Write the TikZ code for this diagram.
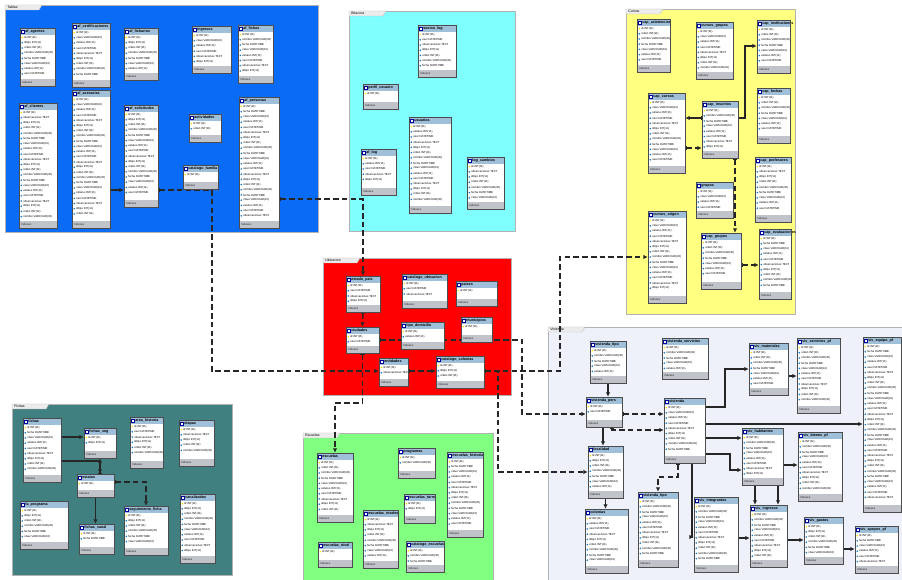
\documentclass[tikz,border=0pt]{standalone}
\usepackage{fontspec}
\setmainfont{Liberation Sans}
\usetikzlibrary{fit,arrows.meta}
\definecolor{capaazul}{RGB}{10,108,246}
\definecolor{capacian}{RGB}{128,255,255}
\definecolor{capaamarilla}{RGB}{255,255,128}
\definecolor{caparoja}{RGB}{255,0,0}
\definecolor{capalila}{RGB}{238,240,250}
\definecolor{capaverdeazul}{RGB}{64,128,128}
\definecolor{capaverde}{RGB}{128,255,128}
\definecolor{cabezatabla}{RGB}{160,192,218}
\definecolor{pietabla}{RGB}{192,196,202}
\pgfdeclarelayer{capas}
\pgfdeclarelayer{lineas}
\pgfsetlayers{capas,lineas,main}

\newcommand\campo[1]{\ifcase#1 nombre VARCHAR(45)\or fecha DATETIME\or clave VARCHAR(10)\or estatus INT(11)\or user DATETIME\or observaciones TEXT\or idtipo INT(11)\or orden INT(11)\fi}

\newcommand\capa[6]{%
	\fill[#1] (#2,#3) rectangle (#4,#5);
	\draw[capa] (#2,#3) rectangle (#4,#5);
	\filldraw[fill=gray!15, draw=gray!50, line width=0.2pt] (#2,#3) -- ({#2+37},#3) -- ({#2+34},{#3+5}) -- (#2,{#3+5}) -- cycle;
	\node[capatxt] at ({#2+2},{#3+2.5}) {#6};
}

\newcommand\tabla[6]{%
	\fill[black!30] ({#2+1.2},{#3+1.2}) rectangle ({#4+1.2},{#5+1.2});
	\fill[white] (#2,#3) rectangle (#4,#5);
	\fill[cabeza] (#2,#3) rectangle (#4,{#3+7});
	\fill[pie] (#2,{#5-7}) rectangle (#4,#5);
	\fill[white] ({#2+1.3},{#3+1.8}) rectangle ({#2+3.8},{#3+5.2});
	\draw[blue!60!black, line width=0.2pt] ({#2+1.3},{#3+1.8}) rectangle ({#2+3.8},{#3+5.2});
	\node[titulo] at ({#2+5},{#3+3.6}) {#6};
	\node[campotxt, text=gray!30!black] at ({#2+2},{#5-3.5}) {Indexes};
	\pgfmathtruncatemacro\nfil{(#5-#3-15)/5.2}%
	\foreach \i in {1,...,\nfil}{%
		\pgfmathtruncatemacro\k{mod(\i+#2,8)}%
		\ifnum\i=1
			\fill[llave] ({#2+2.3},{#3+7+(\i-0.5)*5.2}) circle (0.9);
			\node[campotxt] at ({#2+4},{#3+7+(\i-0.5)*5.2}) {id INT(11)};
		\else
			\fill[dato] ({#2+2.3},{#3+7+(\i-0.5)*5.2}) circle (0.9);
			\node[campotxt] at ({#2+4},{#3+7+(\i-0.5)*5.2}) {\campo{\k}};
		\fi
	}
	\node[tabla, fit={(#2,#3) (#4,#5)}] (#1) {};
}

\begin{document}
\begin{tikzpicture}[x=0.02cm,y=-0.02cm,
	tabla/.style={draw=gray!60!black, line width=0.3pt, inner sep=0pt},
	cabeza/.style={fill=cabezatabla},
	pie/.style={fill=pietabla},
	llave/.style={fill=yellow!80!orange},
	dato/.style={fill=cyan!60!blue},
	titulo/.style={anchor=west, inner sep=0pt, font=\fontsize{2.1}{2.5}\selectfont\bfseries},
	campotxt/.style={anchor=west, inner sep=0pt, font=\fontsize{1.6}{2}\selectfont},
	capatxt/.style={anchor=west, inner sep=0pt, font=\fontsize{2}{2.4}\selectfont},
	capa/.style={draw=gray!60, line width=0.3pt},
	rel/.style={draw=black!85, line width=0.6pt, {Bar[width=2.5pt]}-{Latex[length=2.5pt,width=2.5pt]}},
	ref/.style={rel, line width=0.75pt, dash pattern=on 3.2pt off 1.8pt}]

	\useasboundingbox (0,0) rectangle (902,580);

	\begin{pgfonlayer}{capas}
	\fill[white] (0,0) rectangle (902,580);
	\capa{capaazul}{5}{5}{318}{232}{Tablas}
	\capa{capacian}{349}{11}{515}{231}{Bitacora}
	\capa{capaamarilla}{626}{9}{795}{314}{Cursos}
	\capa{caparoja}{323}{258}{511}{395}{Ubicacion}
	\capa{capalila}{548}{327}{905}{585}{Vivienda}
	\capa{capaverdeazul}{12}{404}{232}{575}{Fichas}
	\capa{capaverde}{303}{433}{493}{580}{Escuelas}
	\end{pgfonlayer}

	% tablas
	\tabla{B1}{20}{28}{55}{86}{af\_agentes}
	\tabla{B2}{72}{23}{110}{87}{af\_certificaciones}
	\tabla{B3}{124}{28}{158}{80}{af\_ficharios}
	\tabla{B4}{192}{26}{231}{73}{ingresos}
	\tabla{B5}{238}{25}{273}{83}{af\_fichas}
	\tabla{B6}{19}{103}{57}{228}{af\_clientes}
	\tabla{B7}{72}{90}{110}{228}{af\_asesorias}
	\tabla{B8}{124}{105}{158}{207}{af\_solicitudes}
	\tabla{B9}{189}{114}{221}{142}{actividades}
	\tabla{B10}{183}{165}{218}{189}{catalogo\_familia}
	\tabla{B11}{239}{97}{279}{228}{af\_personas}

	% bitacora
	\tabla{C1}{418}{25}{456}{77}{sesion\_log}
	\tabla{C2}{363}{84}{398}{109}{perfil\_usuario}
	\tabla{C3}{409}{117}{451}{213}{usuarios}
	\tabla{C4}{361}{149}{396}{195}{af\_log}
	\tabla{C5}{467}{157}{504}{209}{log\_cambios}

	% cursos
	\tabla{Y1}{637}{19}{670}{72}{cap\_asistencias}
	\tabla{Y2}{696}{22}{733}{79}{cursos\_grupos}
	\tabla{Y3}{757}{20}{790}{73}{cap\_instituciones}
	\tabla{Y4}{648}{93}{685}{173}{cap\_cursos}
	\tabla{Y5}{702}{101}{738}{158}{cap\_inscritos}
	\tabla{Y6}{757}{88}{790}{143}{cap\_fechas}
	\tabla{Y7}{755}{157}{791}{222}{cap\_profesores}
	\tabla{Y8}{696}{182}{733}{218}{grupos}
	\tabla{Y9}{648}{211}{686}{303}{cursos\_origen}
	\tabla{Y10}{701}{233}{741}{289}{cap\_grupos}
	\tabla{Y11}{759}{229}{791}{299}{cap\_evaluaciones}

	% ubicacion
	\tabla{R1}{346}{276}{380}{312}{estado\_pais}
	\tabla{R2}{402}{274}{447}{308}{catalogo\_ubicacion}
	\tabla{R3}{456}{281}{497}{306}{paises}
	\tabla{R4}{346}{327}{379}{353}{ciudades}
	\tabla{R5}{401}{322}{444}{349}{tipo\_domicilio}
	\tabla{R6}{461}{317}{492}{342}{municipios}
	\tabla{R7}{379}{358}{408}{386}{entidades}
	\tabla{R8}{436}{356}{484}{388}{catalogo\_colonias}

	% vivienda
	\tabla{L1}{590}{341}{626}{383}{vivienda\_tipo}
	\tabla{L2}{662}{338}{708}{379}{vivienda\_servicios}
	\tabla{L3}{586}{397}{622}{427}{vivienda\_pers}
	\tabla{L4}{664}{398}{705}{463}{vivienda}
	\tabla{L5}{749}{343}{788}{395}{viv\_materiales}
	\tabla{L6}{797}{338}{840}{413}{viv\_servicios\_pf}
	\tabla{L7}{863}{337}{901}{512}{viv\_equipo\_pf}
	\tabla{L8}{742}{428}{783}{485}{viv\_habitantes}
	\tabla{L9}{798}{432}{842}{501}{viv\_bienes\_pf}
	\tabla{L10}{588}{446}{623}{498}{localidad}
	\tabla{L11}{585}{509}{628}{573}{colonias}
	\tabla{L12}{638}{492}{678}{567}{vivienda\_tipo}
	\tabla{L13}{694}{497}{738}{572}{viv\_integrantes}
	\tabla{L14}{750}{505}{787}{567}{viv\_ingresos}
	\tabla{L15}{804}{517}{843}{564}{viv\_gastos}
	\tabla{L16}{855}{526}{898}{573}{viv\_apoyos\_pf}

	% fichas
	\tabla{T1}{23}{418}{61}{482}{fichas}
	\tabla{T2}{84}{428}{116}{458}{fichas\_seg}
	\tabla{T3}{77}{474}{114}{497}{estatus}
	\tabla{T4}{130}{417}{163}{468}{area\_historia}
	\tabla{T5}{179}{420}{214}{466}{etapas}
	\tabla{T6}{20}{501}{68}{549}{fa\_programa}
	\tabla{T7}{79}{524}{114}{554}{fichas\_canal}
	\tabla{T8}{124}{506}{168}{555}{seguimiento\_ficha}
	\tabla{T9}{180}{494}{215}{563}{canalizados}

	% escuelas
	\tabla{G1}{317}{453}{353}{522}{escuelas}
	\tabla{G2}{398}{448}{435}{478}{programas}
	\tabla{G3}{447}{452}{483}{537}{escuelas\_historial}
	\tabla{G4}{404}{494}{435}{523}{escuelas\_turno}
	\tabla{G5}{363}{510}{398}{568}{escuelas\_niveles}
	\tabla{G6}{318}{542}{352}{567}{escuelas\_nivel}
	\tabla{G7}{406}{541}{444}{572}{catalogo\_escuelas}

	\begin{pgfonlayer}{lineas}
	\draw[rel] (B7.east |- 0,190) -- (B8.west |- 0,190);
	\draw[ref] (B8.east |- 0,190) -- (212,190) -- (212,371) -- (R7.west |- 0,371);
	\draw[ref] (B11.east |- 0,199) -| (R1.north);
	\draw[ref] (R1.south) -- (R4.north);
	\draw[ref] (R4.south) -- (R4.south |- 0,403) -| (G1.north);
	\draw[ref] (R4.east |- 0,340) -- (522,340) |- (L3.west |- 0,414);
	\draw[ref] (R7.east |- 0,371) -- (R8.west |- 0,371);
	\draw[ref] (R8.east |- 0,371) -- (560,371) |- (Y9.west |- 0,257);
	\draw[ref] (R8.east |- 0,371) -| (498,472) -- (L10.west |- 0,472);

	\draw[rel] (Y5.west |- 0,118) -- (Y4.east |- 0,118);
	\draw[rel] (Y5.east |- 0,118) -- (745,118) |- (Y3.west |- 0,46);
	\draw[ref] (Y4.east |- 0,148) -- (Y5.west |- 0,148);
	\draw[ref] (Y5.south -| 735,0) -- (Y10.north -| 735,0);
	\draw[ref] (Y10.east |- 0,265) -- (Y11.west |- 0,265);

	\draw[rel] (T1.east |- 0,437) -- (T2.west |- 0,437);
	\draw[rel] (T1.east |- 0,461) -| (T3.north -| 100,0);
	\draw[rel] (T3.north -| 100,0) -- (T2.south -| 100,0);
	\draw[rel] (T3.south) -- (T7.north -| T3.south);
	\draw[ref] (T3.east |- 0,482) -| (T8.north -| 146,0);

	\draw[rel] (L1.south -| 608,0) -- (L3.north -| 608,0);
	\draw[ref] (L3.east |- 0,414) -- (L4.west |- 0,414);
	\draw[ref] (L3.south -| 612,0) |- (L4.west |- 0,430);
	\draw[rel] (L3.south -| 603,0) -- (L10.north -| 603,0);
	\draw[rel] (L10.south) -- (L11.north -| L10.south);
	\draw[ref] (L4.south -| 678,0) -- (678,477) -| (L12.north);
	\draw[rel] (L4.south -| 692,0) |- (L13.west |- 0,537);
	\draw[rel] (L4.east |- 0,407) -- (725,407) |- (L5.west |- 0,369);
	\draw[rel] (L5.east |- 0,376) -- (L6.west |- 0,376);
	\draw[rel] (L4.east |- 0,424) -- (L7.west |- 0,424);
	\draw[rel] (L4.east |- 0,438) -- (L8.west |- 0,438);
	\draw[rel] (L4.east |- 0,454) -- (730,454) |- (L8.west |- 0,470);
	\draw[rel] (L8.south -| 755,0) -- (L14.north -| 755,0);
	\draw[rel] (L8.south -| 778,0) -- (L14.north -| 778,0);
	\draw[rel] (L8.east |- 0,465) -- (L9.west |- 0,465);
	\draw[rel] (L13.east |- 0,538) -- (L14.west |- 0,538);
	\draw[rel] (L14.east |- 0,540) -- (L15.west |- 0,540);
	\draw[rel] (L15.east |- 0,549) -- (L16.west |- 0,549);
	\end{pgfonlayer}
\end{tikzpicture}
\end{document}
